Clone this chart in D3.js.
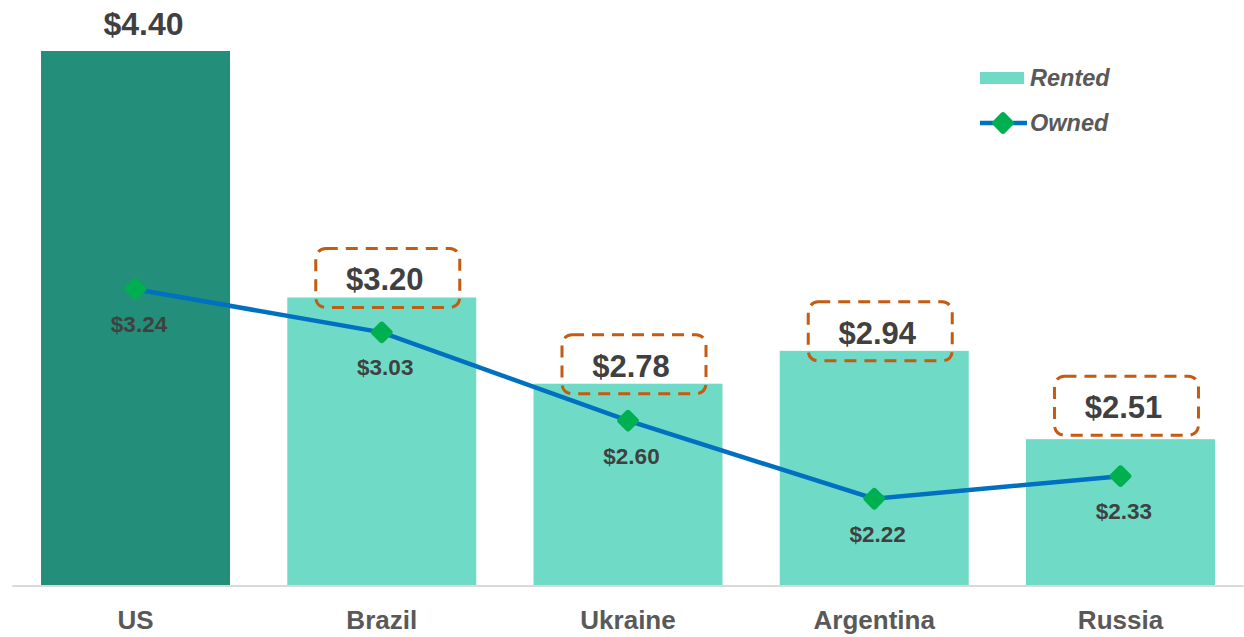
<!DOCTYPE html>
<html>
<head>
<meta charset="utf-8">
<script src="https://cdn.jsdelivr.net/npm/d3@7"></script>
<style>
  html, body { margin: 0; padding: 0; background: #fff; }
  svg { display: block; }
</style>
</head>
<body>
<svg id="chart" width="1244" height="637"></svg>
<script>
const categories = ["US", "Brazil", "Ukraine", "Argentina", "Russia"];
const rentedValues = [4.40, 3.20, 2.78, 2.94, 2.51];
const ownedValues = [3.24, 3.03, 2.60, 2.22, 2.33];
const seriesNames = ["Rented", "Owned"];

const W = 1244, H = 637;
const svg = d3.select("#chart");
const fontMain = "'Liberation Sans', Arial, sans-serif";

const x = d3.scaleBand().domain(categories).range([12.4, 1243.6])
  .paddingInner(0.2325).paddingOuter(0.11625);
const y = d3.scaleLinear().domain([1.8, 4.4]).range([585, 51]);

const fmt = v => "$" + d3.format(".2f")(v);
const barColor = (d, i) => i === 0 ? "#238E7A" : "#6FDBC7";

// bars
svg.append("g").selectAll("rect").data(categories).join("rect")
  .attr("x", d => x(d)).attr("width", x.bandwidth())
  .attr("y", (d, i) => y(rentedValues[i]))
  .attr("height", (d, i) => y.range()[0] - y(rentedValues[i]))
  .attr("fill", barColor);

// axis
const xAxis = svg.append("g").attr("transform", `translate(0,${y.range()[0]})`)
  .call(d3.axisBottom(x).tickSize(0).tickPadding(26));
xAxis.select(".domain").attr("stroke", "#D9D9D9").attr("stroke-width", 2)
  .attr("d", `M${x.range()[0]},1H${x.range()[1]}`);
xAxis.selectAll(".tick text").attr("font-family", fontMain).attr("font-size", 26)
  .attr("font-weight", "bold").attr("fill", "#595959").attr("dy", "0.71em");

// Rented labels
const boxW = 144, boxH = 59;
const boxNudge = { "Russia": -14 };
const boxShift = 6, textShift = 3;
const lab = svg.append("g");
categories.forEach((c, i) => {
  const cx = x(c) + x.bandwidth() / 2;
  const v = rentedValues[i];
  if (i === 0) {
    lab.append("text").attr("x", cx + 8).attr("y", y(v) - 16)
      .attr("text-anchor", "middle").attr("font-family", fontMain)
      .attr("font-size", 32).attr("font-weight", "bold").attr("fill", "#404040")
      .text(fmt(v));
  } else {
    const top = y(v) - 49 + (boxNudge[c] || 0);
    lab.append("rect").attr("x", cx - boxW / 2 + boxShift).attr("y", top)
      .attr("width", boxW).attr("height", boxH).attr("rx", 10)
      .attr("fill", "none").attr("stroke", "#C55A11").attr("stroke-width", 3)
      .attr("stroke-dasharray", "12,8");
    lab.append("text").attr("x", cx + textShift).attr("y", top + 42)
      .attr("text-anchor", "middle").attr("font-family", fontMain)
      .attr("font-size", 31).attr("font-weight", "bold").attr("fill", "#404040")
      .text(fmt(v));
  }
});

// Owned line
const line = d3.line().x((d, i) => x(categories[i]) + x.bandwidth() / 2).y(d => y(d));
svg.append("path").datum(ownedValues).attr("d", line)
  .attr("fill", "none").attr("stroke", "#0070C0").attr("stroke-width", 4.5);

const diamond = (g, cx, cy) => g.append("rect")
  .attr("x", -8.5).attr("y", -8.5).attr("width", 17).attr("height", 17).attr("rx", 3)
  .attr("fill", "#00B050")
  .attr("transform", `translate(${cx},${cy}) rotate(45)`);

const pts = svg.append("g");
ownedValues.forEach((v, i) => {
  const cx = x(categories[i]) + x.bandwidth() / 2;
  diamond(pts, cx, y(v));
  pts.append("text").attr("x", cx + 3.5).attr("y", y(v) + 43)
    .attr("text-anchor", "middle").attr("font-family", fontMain)
    .attr("font-size", 22.5).attr("font-weight", "bold").attr("fill", "#404040")
    .text(fmt(v));
});

// legend
const lg = svg.append("g");
lg.append("rect").attr("x", 980).attr("y", 72).attr("width", 44).attr("height", 12).attr("fill", "#6FDBC7");
lg.append("text").attr("x", 1030).attr("y", 86).attr("font-family", fontMain)
  .attr("font-size", 23.5).attr("font-weight", "bold").attr("font-style", "italic")
  .attr("fill", "#595959").text(seriesNames[0]);
lg.append("line").attr("x1", 980).attr("x2", 1027).attr("y1", 123).attr("y2", 123)
  .attr("stroke", "#0070C0").attr("stroke-width", 4.5);
diamond(lg, 1003, 123);
lg.append("text").attr("x", 1030).attr("y", 131).attr("font-family", fontMain)
  .attr("font-size", 23.5).attr("font-weight", "bold").attr("font-style", "italic")
  .attr("fill", "#595959").text(seriesNames[1]);
</script>
</body>
</html>
